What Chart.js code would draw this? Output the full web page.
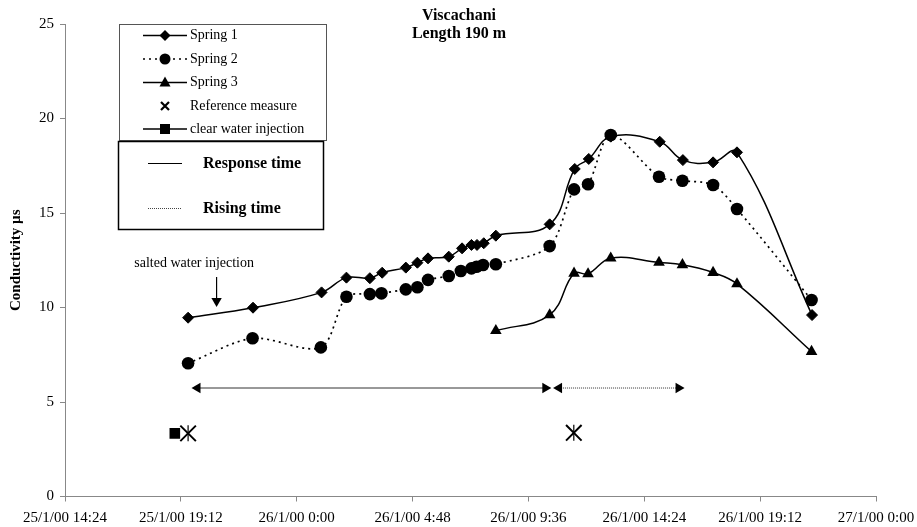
<!DOCTYPE html>
<html>
<head>
<meta charset="utf-8">
<script src="https://cdn.jsdelivr.net/npm/chart.js@4.4.1/dist/chart.umd.min.js"></script>
<style>
html,body{margin:0;padding:0;background:#fff;}
#wrap{width:917px;height:527px;position:relative;}
</style>
</head>
<body>
<div id="wrap"><canvas id="c" width="917" height="527"></canvas></div>
<script>
// Time values are hours counted from 25/1/00 00:00
const xTickLabels = ['25/1/00 14:24','25/1/00 19:12','26/1/00 0:00','26/1/00 4:48','26/1/00 9:36','26/1/00 14:24','26/1/00 19:12','27/1/00 0:00'];
const yTickValues = [0, 5, 10, 15, 20, 25];

const spring1Hours  = [19.50, 22.19, 25.03, 26.06, 27.03, 27.54, 28.52, 29.00, 29.44, 30.30, 30.85, 31.24, 31.47, 31.75, 32.25, 34.48, 35.52, 36.10, 37.01, 39.04, 40.00, 41.25, 42.24, 45.35];
const spring1Values = [9.46, 9.99, 10.80, 11.58, 11.55, 11.84, 12.11, 12.37, 12.60, 12.69, 13.13, 13.31, 13.31, 13.40, 13.80, 14.40, 17.33, 17.86, 19.04, 18.77, 17.80, 17.68, 18.21, 9.60];

const spring2Hours  = [19.50, 22.17, 25.00, 26.06, 27.03, 27.51, 28.52, 29.00, 29.44, 30.30, 30.80, 31.24, 31.45, 31.72, 32.25, 34.48, 35.49, 36.07, 37.01, 39.01, 39.98, 41.25, 42.24, 45.33];
const spring2Values = [7.05, 8.37, 7.89, 10.57, 10.71, 10.75, 10.96, 11.07, 11.46, 11.67, 11.93, 12.07, 12.16, 12.25, 12.29, 13.25, 16.25, 16.52, 19.13, 16.92, 16.71, 16.48, 15.21, 10.40];

const spring3Hours  = [32.25, 34.48, 35.49, 36.07, 37.01, 39.01, 39.98, 41.25, 42.24, 45.33];
const spring3Values = [8.77, 9.61, 11.81, 11.78, 12.61, 12.38, 12.26, 11.85, 11.25, 7.67];

const referenceHours  = [19.50, 35.48];
const referenceValues = [3.34, 3.37];

const clearWaterHours  = [18.95];
const clearWaterValues = [3.34];

// annotations (data units)
const responseTimeHours = [19.89, 34.30];
const risingTimeHours   = [34.87, 39.82];
const timeArrowLevel    = 5.74;
const saltedInjectionHour   = 20.68;
const saltedInjectionLevels = [11.61, 10.34];
const saltedLabel = 'salted water injection';
const saltedLabelAt = [19.75, 12.34];

const titleLines = ['Viscachani', 'Length 190 m'];
const legendLabels = ['Spring 1', 'Spring 2', 'Spring 3', 'Reference measure', 'clear water injection'];
const timeLegendLabels = ['Response time', 'Rising time'];

function pts(xs, ys){ return xs.map((x,i)=>({x:x, y:ys[i]})); }

const SERIF = '"Liberation Serif","Times New Roman",serif';

const overlay = {
  id: 'overlay',
  afterDraw(chart){
    const ctx = chart.ctx;
    const xs = chart.scales.x, ys = chart.scales.y;
    ctx.save();
    // title
    ctx.fillStyle = '#000';
    ctx.textAlign = 'center';
    ctx.textBaseline = 'middle';
    ctx.font = 'bold 16px ' + SERIF;
    ctx.fillText(titleLines[0], 459, 16);
    ctx.fillText(titleLines[1], 459, 34);

    // salted water label
    ctx.font = '14px ' + SERIF;
    ctx.fillText(saltedLabel, xs.getPixelForValue(saltedLabelAt[0]), ys.getPixelForValue(saltedLabelAt[1]));

    // legend box 1
    ctx.fillStyle = '#fff';
    ctx.fillRect(119.5, 24.5, 207, 116);
    ctx.strokeStyle = '#555';
    ctx.lineWidth = 1;
    ctx.strokeRect(119.5, 24.5, 207, 116);
    const rowY = [35.5, 59, 82.5, 106, 129];
    const lx0 = 143, lx1 = 187, mx = 165;
    ctx.strokeStyle = '#000';
    ctx.fillStyle = '#000';
    for (let i = 0; i < 5; i++) {
      const y = rowY[i];
      ctx.lineWidth = 1.5;
      if (i !== 3) {
        ctx.setLineDash(i === 1 ? [2,4] : []);
        ctx.beginPath(); ctx.moveTo(lx0, y); ctx.lineTo(lx1, y); ctx.stroke();
        ctx.setLineDash([]);
      }
      ctx.beginPath();
      if (i === 0) { ctx.moveTo(mx-5.5,y); ctx.lineTo(mx,y-5.5); ctx.lineTo(mx+5.5,y); ctx.lineTo(mx,y+5.5); ctx.closePath(); ctx.fill(); }
      if (i === 1) { ctx.arc(mx, y, 5.5, 0, Math.PI*2); ctx.fill(); }
      if (i === 2) { ctx.moveTo(mx, y-6); ctx.lineTo(mx+5.5, y+4); ctx.lineTo(mx-5.5, y+4); ctx.closePath(); ctx.fill(); }
      if (i === 3) { ctx.lineWidth = 2.2; ctx.moveTo(mx-4,y-4); ctx.lineTo(mx+4,y+4); ctx.moveTo(mx+4,y-4); ctx.lineTo(mx-4,y+4); ctx.stroke(); }
      if (i === 4) { ctx.fillRect(mx-5, y-5, 10, 10); }
    }
    ctx.font = '14px ' + SERIF;
    ctx.textAlign = 'left';
    ctx.textBaseline = 'middle';
    legendLabels.forEach((t,i)=>ctx.fillText(t, 190, rowY[i]));

    // legend box 2
    ctx.fillStyle = '#fff';
    ctx.fillRect(118.5, 141.5, 205, 88);
    ctx.strokeStyle = '#000';
    ctx.lineWidth = 1.5;
    ctx.strokeRect(118.5, 141.5, 205, 88);
    ctx.lineWidth = 1;
    ctx.beginPath(); ctx.moveTo(148, 163.5); ctx.lineTo(182, 163.5); ctx.stroke();
    ctx.setLineDash([1,1]);
    ctx.strokeStyle = '#444';
    ctx.beginPath(); ctx.moveTo(148, 208.5); ctx.lineTo(182, 208.5); ctx.stroke();
    ctx.setLineDash([]);
    ctx.fillStyle = '#000';
    ctx.font = 'bold 16px ' + SERIF;
    ctx.fillText(timeLegendLabels[0], 203, 164);
    ctx.fillText(timeLegendLabels[1], 203, 209);
    ctx.restore();
  }
};

const chart = new Chart(document.getElementById('c'), {
  type: 'scatter',
  data: {
    datasets: [
      { label: legendLabels[0], data: pts(spring1Hours, spring1Values), showLine: true, tension: 0.4,
        borderColor: '#000', borderWidth: 1.5, pointStyle: 'rectRot', pointRadius: 5.5,
        pointBackgroundColor: '#000', pointBorderColor: '#000', pointBorderWidth: 1 },
      { label: legendLabels[1], data: pts(spring2Hours, spring2Values), showLine: true, tension: 0.3,
        borderColor: '#000', borderWidth: 1.7, borderDash: [2,4], pointStyle: 'circle', pointRadius: 6.3,
        pointBackgroundColor: '#000', pointBorderColor: '#000', pointBorderWidth: 0 },
      { label: legendLabels[2], data: pts(spring3Hours, spring3Values), showLine: true, tension: 0.4,
        borderColor: '#000', borderWidth: 1.5, pointStyle: 'triangle', pointRadius: 6.7,
        pointBackgroundColor: '#000', pointBorderColor: '#000', pointBorderWidth: 0 },
      { label: legendLabels[3], data: pts(referenceHours, referenceValues), showLine: false,
        pointStyle: 'crossRot', pointRadius: 11, pointBorderColor: '#000', pointBorderWidth: 2 },
      { label: legendLabels[3] + ' (bar)', data: pts(referenceHours, referenceValues), showLine: false,
        pointStyle: 'line', pointRotation: 90, pointRadius: 8, pointBorderColor: '#000', pointBorderWidth: 1.2 },
      { label: legendLabels[4], data: pts(clearWaterHours, clearWaterValues), showLine: false,
        pointStyle: 'rect', pointRadius: 7.5, pointBackgroundColor: '#000', pointBorderColor: '#000', pointBorderWidth: 0 },
      { label: timeLegendLabels[0], data: pts(responseTimeHours, [timeArrowLevel, timeArrowLevel]), showLine: true,
        borderColor: '#333', borderWidth: 1, pointStyle: 'triangle', pointRotation: [-90, 90], pointRadius: 6,
        pointBackgroundColor: '#000', pointBorderWidth: 0 },
      { label: timeLegendLabels[1], data: pts(risingTimeHours, [timeArrowLevel, timeArrowLevel]), showLine: true,
        borderColor: '#333', borderWidth: 1, borderDash: [1,1], pointStyle: 'triangle', pointRotation: [-90, 90], pointRadius: 6,
        pointBackgroundColor: '#000', pointBorderWidth: 0 },
      { label: saltedLabel, data: pts([saltedInjectionHour, saltedInjectionHour], saltedInjectionLevels), showLine: true,
        borderColor: '#000', borderWidth: 1.2, pointStyle: 'triangle', pointRotation: 180, pointRadius: [0, 6],
        pointBackgroundColor: '#000', pointBorderWidth: 0 }
    ]
  },
  options: {
    responsive: false,
    devicePixelRatio: 1,
    animation: false,
    layout: { padding: { left: 0, right: 41, top: 24, bottom: 0 } },
    plugins: { legend: { display: false }, tooltip: { enabled: false } },
    scales: {
      x: {
        type: 'linear', min: 14.4, max: 48,
        afterFit(s){ s.height = 30.5; s.paddingLeft = 0; s.paddingRight = 0; },
        afterBuildTicks(s){ s.ticks = xTickLabels.map((l,i)=>({value: 14.4 + 4.8*i})); },
        ticks: { autoSkip: false, maxRotation: 0, minRotation: 0, padding: 8, color: '#000',
                 font: { family: SERIF, size: 15 },
                 callback(v, i){ return xTickLabels[i]; } },
        grid: { display: true, drawOnChartArea: false, drawTicks: true, tickLength: 5, color: '#888' },
        border: { color: '#888', width: 1 }
      },
      y: {
        type: 'linear', min: 0, max: 25,
        afterFit(s){ s.width = 65; s.paddingTop = 0; s.paddingBottom = 0; },
        afterBuildTicks(s){ s.ticks = yTickValues.map(v=>({value: v})); },
        ticks: { padding: 6, color: '#000', font: { family: SERIF, size: 15 } },
        grid: { display: true, drawOnChartArea: false, drawTicks: true, tickLength: 5, color: '#888' },
        border: { color: '#888', width: 1 },
        title: { display: true, text: 'Conductivity µs', color: '#000', padding: { top: 7, bottom: 0 },
                 font: { family: SERIF, size: 15, weight: 'bold' } }
      }
    }
  },
  plugins: [overlay]
});
</script>
</body>
</html>
